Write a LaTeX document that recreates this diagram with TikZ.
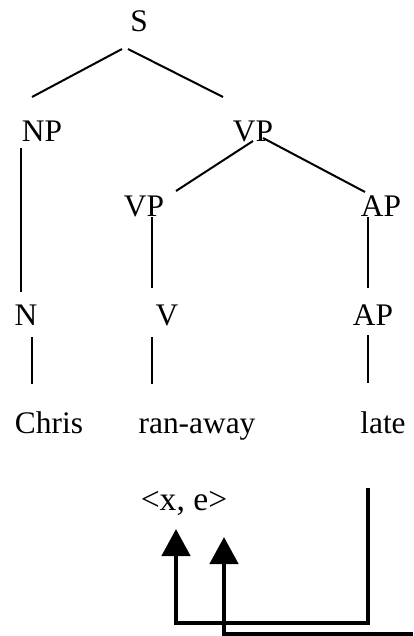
\documentclass[tikz,border=0pt]{standalone}
\usepackage{fontspec}
\setmainfont{Liberation Serif}
\usetikzlibrary{arrows.meta, calc}

\begin{document}
\begin{tikzpicture}[x=0.5pt, y=-0.5pt,
  cat/.style={inner sep=0pt, anchor=base, font=\fontsize{15.7}{18}\selectfont},
  branch/.style={line width=1pt},
  arr/.style={line width=2.3pt, -{Triangle[length=13.5pt, width=14pt]}}]
  \useasboundingbox (0,0) rectangle (413,636);
  % categories
  \node[cat] (s) at (139,32) {S};
  \node[cat] (np) at (42,142) {NP};
  \node[cat] (vp) at (253,142) {VP};
  \node[cat] (vpl) at (144,216) {VP};
  \node[cat] (ap) at (381,216) {AP};
  \node[cat] (n) at (26,325) {N};
  \node[cat] (v) at (167,325) {V};
  \node[cat] (apl) at (373,325) {AP};
  % words
  \node[cat] (chris) at (49,433) {Chris};
  \node[cat] (ran) at (197,433) {ran-away};
  \node[cat] (late) at (383,433) {late};
  \node[cat, font=\fontsize{16.8}{19}\selectfont] (xe) at (184,510) {<x, e>};
  % branches
  \draw[branch] ($(s.base)+(-17,17)$) -- ($(np.base)+(-10,-45)$);
  \draw[branch] ($(s.base)+(-11,17)$) -- ($(vp.base)+(-30,-45)$);
  \draw[branch] ($(np.base)+(-21,6)$) -- ($(n.base)+(-5,-33)$);
  \draw[branch] ($(vp.base)+(0,-1)$) -- ($(vpl.base)+(32,-25)$);
  \draw[branch] ($(vp.base)+(10,-4)$) -- ($(ap.base)+(-16,-24)$);
  \draw[branch] ($(vpl.base)+(8,1)$) -- ($(v.base)+(-15,-37)$);
  \draw[branch] ($(ap.base)+(-13,1)$) -- ($(apl.base)+(-5,-37)$);
  \draw[branch] ($(n.base)+(6,12)$) -- ($(chris.base)+(-17,-49)$);
  \draw[branch] ($(v.base)+(-15,12)$) -- ($(ran.base)+(-45,-49)$);
  \draw[branch] ($(apl.base)+(-5,10)$) -- ($(late.base)+(-15,-50)$);
  % binding arrows
  \coordinate (edge) at (413,634);
  \draw[arr] ($(late.base)+(-15,55)$) -- ++(0,135) -| ($(xe.base)+(-8,19)$);
  \draw[arr] (edge) -| ($(xe.base)+(40,27)$);
\end{tikzpicture}
\end{document}
